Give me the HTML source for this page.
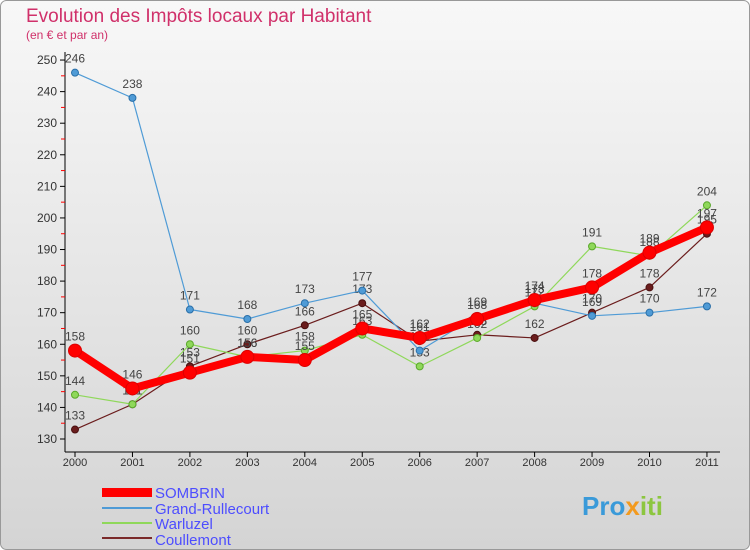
<!DOCTYPE html>
<html><head><meta charset="utf-8"><style>
body{margin:0;width:750px;height:550px;overflow:hidden;font-family:"Liberation Sans",sans-serif}
</style></head><body>
<svg width="750" height="550" xmlns="http://www.w3.org/2000/svg" style="display:block">
<defs><linearGradient id="bg" x1="0" y1="0" x2="0" y2="1"><stop offset="0" stop-color="#f8f8f8"/><stop offset="1" stop-color="#d4d4d4"/></linearGradient></defs>
<rect x="0.5" y="0.5" width="749" height="549" rx="6" fill="url(#bg)" stroke="#999"/>
<text x="26" y="22" font-size="19" fill="#d0306a">Evolution des Impôts locaux par Habitant</text>
<text x="26" y="39" font-size="12" fill="#d0306a">(en € et par an)</text>
<g id="axes"></g>
<g id="series"></g>
<g>
<rect x="102" y="488" width="50" height="9" fill="#f00"/>
<text x="155" y="498" font-size="15" fill="#4d4dff">SOMBRIN</text>
<line x1="102" y1="508" x2="152" y2="508" stroke="#4f9bd6" stroke-width="2"/>
<text x="155" y="514" font-size="15" fill="#4d4dff">Grand-Rullecourt</text>
<line x1="102" y1="523" x2="152" y2="523" stroke="#8fd85a" stroke-width="2"/>
<text x="155" y="529" font-size="15" fill="#4d4dff">Warluzel</text>
<line x1="102" y1="538" x2="152" y2="538" stroke="#7a2a2a" stroke-width="2"/>
<text x="155" y="545" font-size="15" fill="#4d4dff">Coullemont</text>
</g>
<text x="582" y="515" font-size="26" font-weight="bold" fill="#3a9ad9">Pro<tspan fill="#f39a1e">x</tspan><tspan fill="#8cc63f">iti</tspan></text>
</svg>
<script>
const years=["2000","2001","2002","2003","2004","2005","2006","2007","2008","2009","2010","2011"];
const yTicks=[130,140,150,160,170,180,190,200,210,220,230,240,250];
const sombrin=[158,146,151,156,155,165,162,168,174,178,189,197];
const grandRullecourt=[246,238,171,168,173,177,158,169,173,169,170,172];
const warluzel=[144,141,160,156,158,163,153,162,172,191,188,204];
const coullemont=[133,141,153,160,166,173,161,163,162,170,178,195];
const NS="http://www.w3.org/2000/svg";
function x(i){return 75+i*57.45;}
function y(v){return 439-(v-130)*3.158;}
function mk(t,a,p){const e=document.createElementNS(NS,t);for(const k in a)e.setAttribute(k,a[k]);p.appendChild(e);return e;}
const ax=document.getElementById('axes');
const yl=mk('line',{x1:65,y1:52,x2:65,y2:452,stroke:'#000'},ax);


const xl=mk('line',{x1:65,y1:452,x2:720,y2:452,stroke:'#000'},ax);


yTicks.forEach(v=>{
  mk('line',{x1:60,y1:y(v),x2:65,y2:y(v),stroke:'#000'},ax);
  if(v<250)mk('line',{x1:61,y1:y(v+5),x2:65,y2:y(v+5),stroke:'#f00'},ax);
  const t=mk('text',{x:57,y:y(v)+4,'font-size':12,'text-anchor':'end',fill:'#333'},ax);
  
  
  t.textContent=v;
});
years.forEach((yr,i)=>{
  mk('line',{x1:x(i),y1:452,x2:x(i),y2:457,stroke:'#000'},ax);
  const t=mk('text',{x:x(i),y:466,'font-size':11,'text-anchor':'middle',fill:'#333'},ax);
  
  
  t.textContent=yr;
});
const sg=document.getElementById('series');
function series(name,data,color,w,r,stroke){
  const g=mk('g',{},sg);
  
  
  const pl=mk('polyline',{points:data.map((v,i)=>x(i)+','+y(v)).join(' '),fill:'none',stroke:color,'stroke-width':w,'stroke-linejoin':'round'},g);
  
  
  data.forEach((v,i)=>{
    const c=mk('circle',{cx:x(i),cy:y(v),r:r,fill:color,stroke:stroke,'stroke-width':1},g);
    
    
    const t=mk('text',{x:x(i),y:y(v)-10,'font-size':12,'text-anchor':'middle',fill:'#444'},g);
    
    
    t.textContent=v;
  });
}
series('coullemont',coullemont,'#6b1d1d',1.2,3.5,'#4a1010');
series('warluzel',warluzel,'#8fd85a',1.2,3.5,'#5aa82a');
series('grand-rullecourt',grandRullecourt,'#4f9bd6',1.2,3.5,'#2a6fa8');
series('sombrin',sombrin,'#f00',8,6.5,'#d00');
</script>
</body></html>
